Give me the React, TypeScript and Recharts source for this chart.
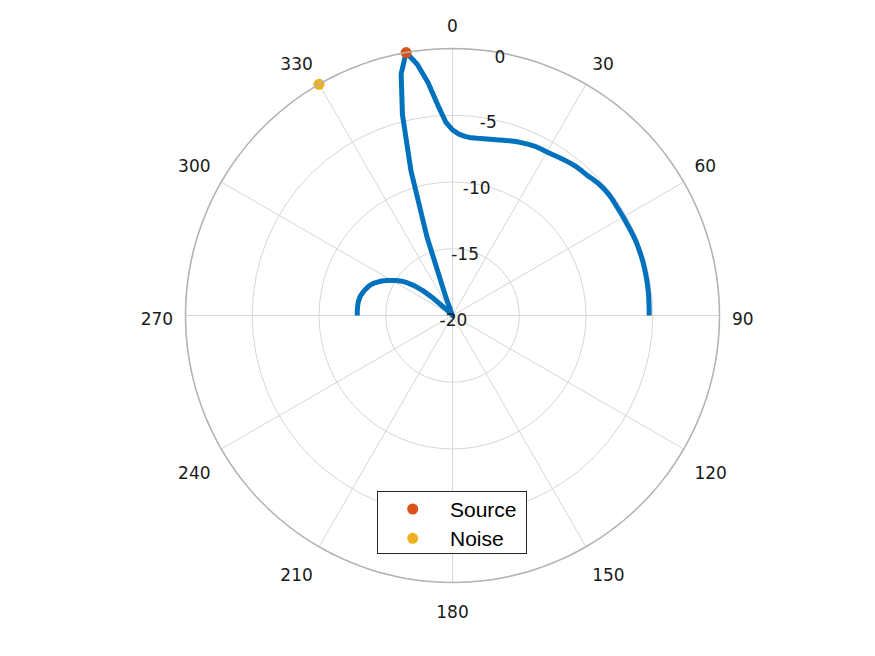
import React from 'react';
import { RadarChart, Radar, PolarGrid, PolarAngleAxis, PolarRadiusAxis } from 'recharts';

// polar axis layout
const angleStep = 2;
const angleTicks = [0, 30, 60, 90, 120, 150, 180, 210, 240, 270, 300, 330];
const radiusTicks = [-20, -15, -10, -5, 0];

// beam pattern (dB), front half only (values under -20 sit on the centre)
const patternAngles = [
  270, 272, 274, 276, 278, 280, 282, 284, 286, 288, 290, 292, 294, 296, 298, 300,
  302, 304, 306, 308, 310, 312, 314, 316, 318, 320, 322, 324, 326, 328, 330, 332,
  334, 336, 338, 340, 342, 344, 346, 348, 350, 352, 354, 356, 358,
  0, 2, 4, 6, 8, 10, 12, 14, 16, 18, 20, 22, 24, 26, 28, 30, 32, 34, 36, 38, 40,
  42, 44, 46, 48, 50, 52, 54, 56, 58, 60, 62, 64, 66, 68, 70, 72, 74, 76, 78, 80,
  82, 84, 86, 88, 90,
];
const patternDb = [
  -12.87, -12.86, -12.86, -12.86, -12.87, -12.9, -12.95, -13.05, -13.15, -13.28, -13.4, -13.6, -13.85, -14.1, -14.4, -14.75,
  -15.05, -15.4, -15.85, -16.4, -17.1, -18.1, -19.3, -20, -20, -20, -20, -20, -20, -20, -20, -20,
  -20, -20, -20, -18.6, -13.8, -8.7, -4.5, -1.5, 0, -1.0, -2.45, -4.2, -5.5,
  -6.1, -6.4, -6.55, -6.62, -6.6, -6.55, -6.5, -6.44, -6.34, -6.23, -6.13, -6.05, -5.97, -5.9, -5.87, -5.85, -5.8, -5.72, -5.64, -5.56, -5.5,
  -5.47, -5.44, -5.34, -5.26, -5.21, -5.19, -5.2, -5.23, -5.24, -5.24, -5.24, -5.22, -5.2, -5.18, -5.18, -5.18, -5.18, -5.19, -5.2, -5.21,
  -5.22, -5.23, -5.25, -5.26, -5.27,
];

// markers
const markerNames = ['Source', 'Noise'];
const markerAngles = [350, 330];
const markerDb = [0, 0];
const markerColors = ['#D95319', '#EDB120'];

const data: any[] = [];
for (let a = 0; a < 360; a += angleStep) {
  const i = patternAngles.indexOf(a);
  const row: any = { angle: a, pattern: i >= 0 ? patternDb[i] : null };
  markerNames.forEach((n, k) => {
    row[n] = markerAngles[k] === a ? markerDb[k] : null;
  });
  data.push(row);
}

const tickFont = '"DejaVu Sans", sans-serif';

const AngleTick = (props: any) => {
  const { x, y, payload } = props;
  if (!angleTicks.includes(payload.value)) return <g />;
  const rad = (payload.coordinate * Math.PI) / 180;
  const dx = Math.cos(rad);
  const dy = -Math.sin(rad);
  const anchor = dx > 0.01 ? 'start' : dx < -0.01 ? 'end' : 'middle';
  const by = dy < -0.01 ? y - 3.8 : dy > 0.01 ? y + 23.4 : y + 9.7;
  return (
    <text x={x} y={by} textAnchor={anchor} fontSize={17} fontFamily={tickFont} fill="#1a1a1a">
      {payload.value}
    </text>
  );
};

const RadiusTick = (props: any) => {
  const { x, y, payload } = props;
  return (
    <text x={x + 1} y={y + 10} textAnchor="middle" fontSize={17} fontFamily={tickFont} fill="#1a1a1a">
      {payload.value}
    </text>
  );
};

const isSet = (p: any) => p && p.value !== null && p.value !== undefined;

// open curve through the points that have a value; gaps are left undrawn
const PatternShape = (props: any) => {
  const pts: any[] = props.points || [];
  const n = pts.length;
  let start = pts.findIndex((p, i) => isSet(p) && !isSet(pts[(i - 1 + n) % n]));
  if (start < 0) start = 0;
  let d = '';
  let pen = false;
  for (let k = 0; k < n; k++) {
    const p = pts[(start + k) % n];
    if (!isSet(p)) {
      pen = false;
      continue;
    }
    d += `${pen ? 'L' : 'M'}${p.x},${p.y}`;
    pen = true;
  }
  return (
    <path
      d={d}
      fill="none"
      stroke={props.stroke}
      strokeWidth={props.strokeWidth}
      strokeLinejoin="round"
    />
  );
};

const markerShape = (color: string) => (props: any) => {
  const pts: any[] = props.points || [];
  return (
    <g>
      {pts.filter(isSet).map((p, i) => (
        <circle key={i} cx={p.x} cy={p.y} r={5.5} fill={color} />
      ))}
    </g>
  );
};

export default function App() {
  return (
    <div style={{ position: 'absolute', left: 0, top: 0, width: 875, height: 656, background: '#fff' }}>
      <RadarChart
        width={875}
        height={656}
        data={data}
        cx={452.5}
        cy={315.5}
        outerRadius={267}
        startAngle={90}
        endAngle={-270}
        margin={{ top: 0, right: 0, bottom: 0, left: 0 }}
      >
        <PolarGrid gridType="circle" stroke="#d6d6d6" polarAngles={angleTicks.map((a) => 90 - a)} />
        <PolarAngleAxis
          dataKey="angle"
          tickLine={false}
          tickSize={12.4}
          axisLine={{ stroke: '#b3b3b3', strokeWidth: 1.5 }}
          tick={AngleTick}
        />
        <PolarRadiusAxis
          angle={80}
          type="number"
          domain={[-20, 0]}
          ticks={radiusTicks as any}
          tickCount={5}
          axisLine={false}
          tick={RadiusTick}
        />
        <Radar
          dataKey="pattern"
          stroke="#0072BD"
          strokeWidth={5}
          fill="none"
          dot={false}
          shape={PatternShape}
          isAnimationActive={false}
        />
        {markerNames.map((n, k) => (
          <Radar
            key={n}
            dataKey={n}
            stroke="none"
            fill="none"
            dot={false}
            shape={markerShape(markerColors[k])}
            isAnimationActive={false}
          />
        ))}
      </RadarChart>
      <div style={{ position: 'absolute', left: 377, top: 491, width: 150, height: 63 }}>
        <svg width={150} height={63}>
          <rect x={0.5} y={0.5} width={149} height={62} fill="#fff" stroke="#262626" strokeWidth={1} />
          {markerNames.map((n, k) => (
            <g key={n}>
              <circle cx={35.7} cy={18 + k * 29.3} r={5.5} fill={markerColors[k]} />
              <text
                x={73}
                y={18 + k * 29.3 + 7.5}
                fontSize={21}
                fontFamily='"Liberation Sans", Arial, sans-serif'
                fill="#000"
              >
                {n}
              </text>
            </g>
          ))}
        </svg>
      </div>
    </div>
  );
}
